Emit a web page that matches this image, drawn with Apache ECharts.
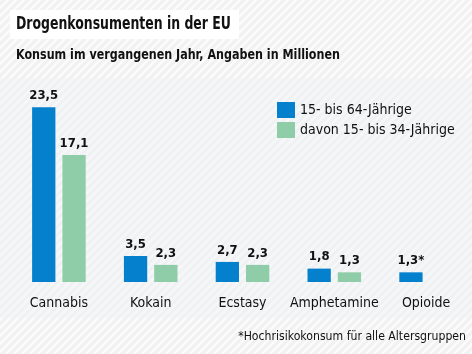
<!DOCTYPE html>
<html><head><meta charset="utf-8">
<script src="https://cdn.jsdelivr.net/npm/echarts@6/dist/echarts.min.js"></script>
<style>html,body{margin:0;padding:0;}#c{width:472px;height:354px;}</style>
</head><body><div id="c"></div>
<script>
const categories = ['Cannabis', 'Kokain', 'Ecstasy', 'Amphetamine', 'Opioide'];
const seriesNames = ['15- bis 64-Jährige', 'davon 15- bis 34-Jährige'];
const valuesAll = [23.5, 3.5, 2.7, 1.8, 1.3];
const valuesYoung = [17.1, 2.3, 2.3, 1.3, null];
const labelSuffix = ['', '', '', '', '*'];
const titleText = 'Drogenkonsumenten in der EU';
const subtitleText = 'Konsum im vergangenen Jahr, Angaben in Millionen';
const footnoteText = '*Hochrisikokonsum für alle Altersgruppen';

const FONT = '"DejaVu Sans Condensed", "DejaVu Sans", sans-serif';
function stripe(bg, fg) {
  const c = document.createElement('canvas');
  c.width = 8; c.height = 8;
  const g = c.getContext('2d');
  g.fillStyle = bg; g.fillRect(0, 0, 8, 8);
  g.strokeStyle = fg; g.lineWidth = 2.5;
  g.beginPath();
  g.moveTo(-2, 10); g.lineTo(10, -2);
  g.moveTo(-6, 6); g.lineTo(6, -6);
  g.moveTo(2, 14); g.lineTo(14, 2);
  g.stroke();
  return c;
}
const fmt = v => String(v).replace('.', ',');
const chart = echarts.init(document.getElementById('c'), null, {renderer: 'canvas'});
chart.setOption({
  animation: false,
  graphic: [
    {type: 'rect', z: -10, shape: {x: 0, y: 0, width: 472, height: 354}, style: {fill: {image: stripe('#f1f1f1', '#fbfbfb'), repeat: 'repeat'}}, silent: true},
    {type: 'rect', z: -9, shape: {x: 0, y: 78, width: 472, height: 240}, style: {fill: {image: stripe('#eff1f3', '#f6f7f9'), repeat: 'repeat'}}, silent: true},
    {type: 'rect', z: -8, shape: {x: 10, y: 10, width: 229, height: 29}, style: {fill: '#ffffff'}, silent: true},
    {type: 'text', x: 16, y: 16, scaleX: 0.815, style: {text: titleText, font: 'bold 17px ' + FONT, fill: '#111'}},
    {type: 'text', x: 16, y: 48, scaleX: 0.885, style: {text: subtitleText, font: '600 14px ' + FONT, fill: '#111'}},
    {type: 'text', x: 466, y: 330, scaleX: 0.935, style: {text: footnoteText, font: '13px ' + FONT, fill: '#111', align: 'right'}}
  ],
  legend: {
    orient: 'vertical', left: 277, top: 102, padding: 0, itemWidth: 18, itemHeight: 16, itemGap: 4,
    icon: 'rect',
    textStyle: {fontFamily: FONT, fontSize: 14, color: '#111', padding: [0, 0, 0, 0]},
    data: seriesNames
  },
  grid: {left: 13, width: 465, top: 59, bottom: 72},
  xAxis: {
    type: 'category', data: categories,
    axisLine: {show: false}, axisTick: {show: false},
    axisLabel: {interval: 0, fontFamily: FONT, fontSize: 14, fontWeight: 500, color: '#111', margin: 14}
  },
  yAxis: {type: 'value', min: 0, max: 30, show: false, splitLine: {show: false}},
  series: [
    {name: seriesNames[0], type: 'bar', data: valuesAll, barWidth: 23.3, barGap: '30%',
     itemStyle: {color: '#0480cc'},
     label: {show: true, position: 'top', distance: 5, fontFamily: FONT, fontSize: 13, fontWeight: 'bold', color: '#111',
       formatter: p => fmt(p.value) + labelSuffix[p.dataIndex]}},
    {name: seriesNames[1], type: 'bar', data: valuesYoung, barWidth: 23.3,
     itemStyle: {color: '#8ecda8'},
     label: {show: true, position: 'top', distance: 5, fontFamily: FONT, fontSize: 13, fontWeight: 'bold', color: '#111',
       formatter: p => fmt(p.value)}}
  ]
});
</script></body></html>
